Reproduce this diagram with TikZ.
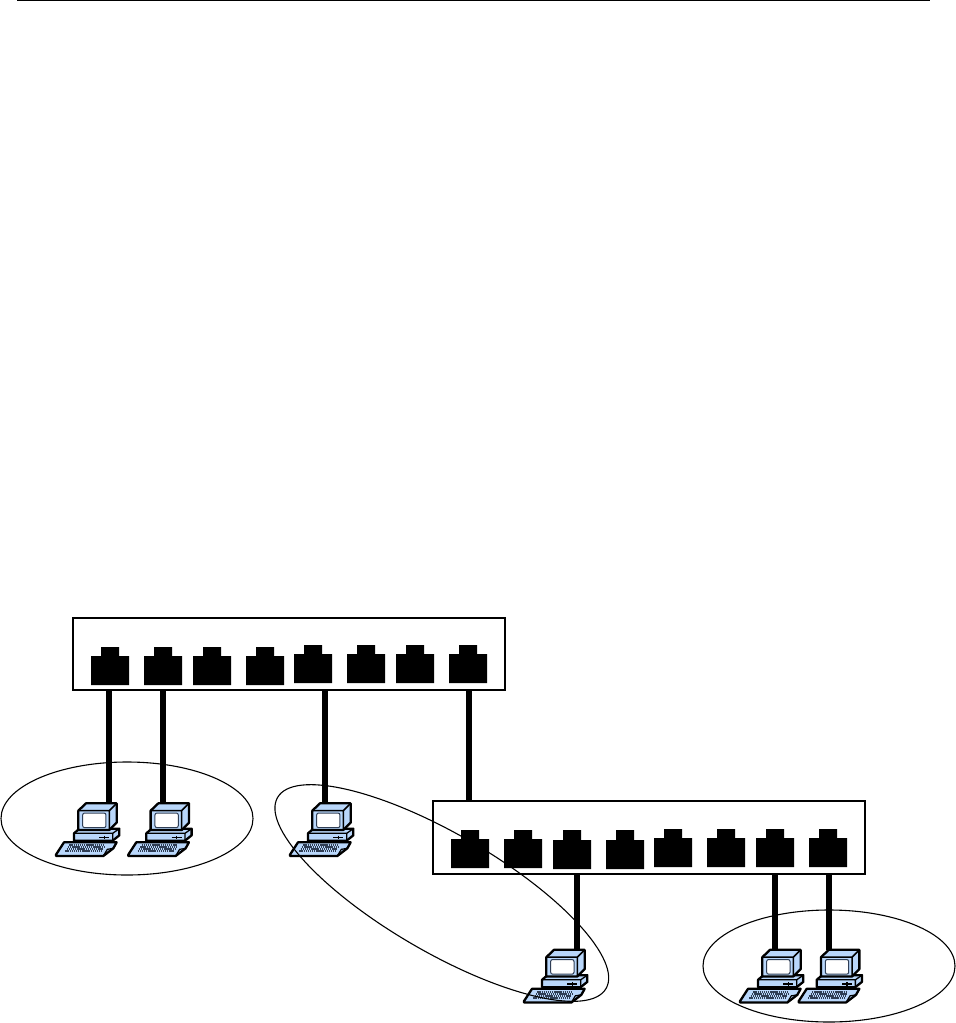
\documentclass[tikz,border=0pt]{standalone}
\definecolor{pcblue}{HTML}{B9D7FB}
\definecolor{keygrey}{HTML}{2F3E55}
\tikzset{
  switchbox/.style={draw=black,line width=1.5pt,fill=white,rectangle,inner sep=0pt,anchor=north west},
  cable/.style={draw=black,line width=6pt},
  lan/.style={draw=black,line width=1.1pt},
  portshape/.style={fill=black,draw=none},
  pcline/.style={draw=black,line width=2.3pt,line join=round,fill=pcblue},
  computer/.pic={
    \begin{scope}[x=0.3333pt,y=-0.3333pt]
      \path[pcline] (72,160) -- (86,148) -- (208,146) -- (208,166) -- (188,182) -- (72,182) -- cycle;
      \draw[black,line width=1.3pt] (72,160) -- (188,160) -- (208,146) (188,160) -- (188,182);
      \draw[black,line width=1.5pt] (148,172) -- (178,172) (163,167) -- (163,177);
      \path[pcline] (85,92) -- (108,70) -- (200,70) -- (200,128) -- (178,150) -- (85,150) -- cycle;
      \draw[black,line width=1.5pt] (85,92) -- (178,92) -- (200,70) (178,92) -- (178,150);
      \draw[fill=white,draw=keygrey,line width=1pt,rounded corners=2pt] (98,99) rectangle (168,143);
      \path[pcline] (18,224) -- (42,187) -- (200,187) -- (190,205) -- (160,228) -- (18,228) -- cycle;
      \draw[black,line width=1.2pt] (160,228) -- (172,208) -- (190,205);
      \foreach \k/\xa/\xb in {196/58/165,202/54/162,208/50/158,214/46/154}
        \draw[keygrey,line width=1.8pt,dash pattern=on 1.4pt off 0.7pt] (\xa,\k) -- (\xb,\k);
    \end{scope}
  }
}
\newcommand{\portat}[4]{% left x, tab top, body top, bottom
  \path[portshape] (#1,#4) -- (#1,#3) -- ({#1+10},#3) -- ({#1+10},#2) -- ({#1+28},#2) -- ({#1+28},#3) -- ({#1+38},#3) -- ({#1+38},#4) -- cycle;
}
\begin{document}
\begin{tikzpicture}[x=1pt,y=-1pt]
\useasboundingbox (0,0) rectangle (956,1023);
\coordinate (ruleL) at (17,0.5);
\coordinate (ruleR) at (930,0.5);
\draw[black,line width=1.2pt] (ruleL) -- (ruleR);

% switches
\node[switchbox,minimum width=432pt,minimum height=72pt] (swA) at (72.2,617.2) {};
\node[switchbox,minimum width=432pt,minimum height=73pt] (swB) at (432.2,800.2) {};

% cable ends
\foreach \n/\x in {a/109,b/163,c/325,d/469}
  \coordinate (top\n) at (\x,690);
\foreach \n/\x in {a/109,b/163,c/325}
  \coordinate (end\n) at (\x,803);
\coordinate (endd) at (469,801);
\foreach \n/\x in {e/577,f/775,g/829} {
  \coordinate (top\n) at (\x,874);
  \coordinate (end\n) at (\x,950);
}
\foreach \n in {a,b,c,d,e,f,g}
  \draw[cable] (top\n) -- (end\n);

% ports
\portat{91}{647}{656}{685}
\portat{144}{647}{656}{685}
\portat{193}{647}{656}{685}
\portat{246}{647}{656}{685}
\portat{294}{645}{654}{683}
\portat{347}{645}{654}{683}
\portat{396}{645}{654}{683}
\portat{449}{645}{654}{683}
\portat{451}{830}{839}{868}
\portat{504}{830}{839}{868}
\portat{553}{830}{840}{869}
\portat{606}{830}{840}{869}
\portat{654}{829}{838}{867}
\portat{707}{829}{838}{867}
\portat{756}{829}{838}{867}
\portat{809}{829}{838}{867}

% computers
\pic at (50,780) {computer};
\pic at (122.3,780) {computer};
\pic at (284,780) {computer};
\pic at (518,926.5) {computer};
\pic at (734,926.5) {computer};
\pic at (792.7,926.5) {computer};

% groups
\draw[lan] (127,818.5) ellipse [x radius=126,y radius=56.5];
\draw[lan] (441.8,893) ellipse [x radius=190,y radius=59,rotate=-30.2];
\draw[lan] (829,966) ellipse [x radius=126,y radius=56];
\end{tikzpicture}
\end{document}
